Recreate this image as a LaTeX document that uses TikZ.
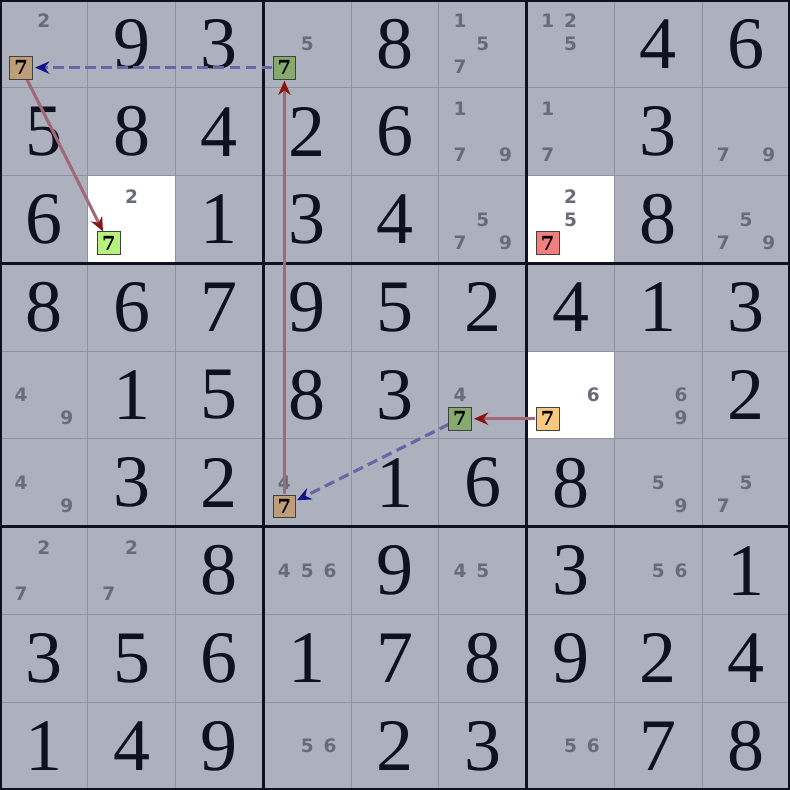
\documentclass[tikz,border=0pt]{standalone}
\usepackage{fontspec}
\usetikzlibrary{arrows.meta}
\newfontfamily\candfont{DejaVu Sans}
\newfontfamily\hlfont{DejaVu Serif}
\newfontfamily\givenfont{Liberation Serif}
\definecolor{bggray}{HTML}{ADB1BD}
\definecolor{thingrid}{HTML}{8E929E}
\definecolor{thickgrid}{HTML}{0E1220}
\definecolor{digitcol}{HTML}{0E1220}
\definecolor{candcol}{HTML}{686C76}
\definecolor{hltan}{HTML}{BE9E78}
\definecolor{hlgreen}{HTML}{86AA6E}
\definecolor{hllime}{HTML}{B8F27E}
\definecolor{hlred}{HTML}{F27E7E}
\definecolor{hlorange}{HTML}{F8C87E}
\definecolor{redline}{HTML}{A26878}
\definecolor{redtip}{HTML}{8A1414}
\definecolor{blueline}{HTML}{6468A8}
\definecolor{bluetip}{HTML}{12128A}
\tikzset{
  given/.style={font=\givenfont\fontsize{24}{24}\selectfont, text=digitcol, inner sep=0pt},
  cand/.style={font=\candfont\bfseries\fontsize{6}{6}\selectfont, text=candcol, inner sep=0pt},
  hlbox/.style={draw=black!75, line width=0.3pt, minimum size=0.26cm, inner sep=0pt,
    font=\hlfont\bfseries\fontsize{6.3}{6.3}\selectfont, text=black},
  strong/.style={draw=redline, line width=1pt, -{Stealth[length=4.6pt,width=4pt,color=redtip]}},
  weak/.style={draw=blueline, line width=1pt, dash pattern=on 3.4pt off 1.8pt, -{Stealth[length=4.6pt,width=4pt,color=bluetip]}}
}
\newcommand{\gv}[3]{\node[given] (g#1#2) at ({#2+0.5},{-(#1+0.5)}) {#3};}
\newcommand{\cds}[3]{%
  \foreach \dd in {#3}{%
    \pgfmathtruncatemacro\ck{mod(\dd-1,3)}%
    \pgfmathtruncatemacro\cj{div(\dd-1,3)}%
    \node[cand] (c#1#2\dd) at ({#2+0.24+0.26*\ck},{-(#1+0.24+0.26*\cj)}) {\dd};
  }}
\newcommand{\hl}[3]{\node[hlbox, fill=#3] (m#1#2) at ({#2+0.24},{-(#1+0.77)}) {7};}
\begin{document}
\begin{tikzpicture}
\useasboundingbox (0,0) rectangle (9,-9);
\fill[bggray] (0,0) rectangle (9,-9);
\fill[white] (1,-2) rectangle (2,-3);
\fill[white] (6,-2) rectangle (7,-3);
\fill[white] (6,-4) rectangle (7,-5);
\foreach \i in {1,2,4,5,7,8}{
  \draw[thingrid, line width=0.35pt] (\i,0) -- (\i,-9);
  \draw[thingrid, line width=0.35pt] (0,-\i) -- (9,-\i);
}
\foreach \i in {3,6}{
  \draw[thickgrid, line width=0.9pt] (\i,0) -- (\i,-9);
  \draw[thickgrid, line width=0.9pt] (0,-\i) -- (9,-\i);
}
\draw[thickgrid, line width=1.6pt] (0,0) rectangle (9,-9);
% row 0
\cds{0}{0}{2}\gv{0}{1}{9}\gv{0}{2}{3}\cds{0}{3}{5}\gv{0}{4}{8}\cds{0}{5}{1,5,7}\cds{0}{6}{1,2,5}\gv{0}{7}{4}\gv{0}{8}{6}
% row 1
\gv{1}{0}{5}\gv{1}{1}{8}\gv{1}{2}{4}\gv{1}{3}{2}\gv{1}{4}{6}\cds{1}{5}{1,7,9}\cds{1}{6}{1,7}\gv{1}{7}{3}\cds{1}{8}{7,9}
% row 2
\gv{2}{0}{6}\cds{2}{1}{2}\gv{2}{2}{1}\gv{2}{3}{3}\gv{2}{4}{4}\cds{2}{5}{5,7,9}\cds{2}{6}{2,5}\gv{2}{7}{8}\cds{2}{8}{5,7,9}
% row 3
\gv{3}{0}{8}\gv{3}{1}{6}\gv{3}{2}{7}\gv{3}{3}{9}\gv{3}{4}{5}\gv{3}{5}{2}\gv{3}{6}{4}\gv{3}{7}{1}\gv{3}{8}{3}
% row 4
\cds{4}{0}{4,9}\gv{4}{1}{1}\gv{4}{2}{5}\gv{4}{3}{8}\gv{4}{4}{3}\cds{4}{5}{4}\cds{4}{6}{6}\cds{4}{7}{6,9}\gv{4}{8}{2}
% row 5
\cds{5}{0}{4,9}\gv{5}{1}{3}\gv{5}{2}{2}\cds{5}{3}{4}\gv{5}{4}{1}\gv{5}{5}{6}\gv{5}{6}{8}\cds{5}{7}{5,9}\cds{5}{8}{5,7}
% row 6
\cds{6}{0}{2,7}\cds{6}{1}{2,7}\gv{6}{2}{8}\cds{6}{3}{4,5,6}\gv{6}{4}{9}\cds{6}{5}{4,5}\gv{6}{6}{3}\cds{6}{7}{5,6}\gv{6}{8}{1}
% row 7
\gv{7}{0}{3}\gv{7}{1}{5}\gv{7}{2}{6}\gv{7}{3}{1}\gv{7}{4}{7}\gv{7}{5}{8}\gv{7}{6}{9}\gv{7}{7}{2}\gv{7}{8}{4}
% row 8
\gv{8}{0}{1}\gv{8}{1}{4}\gv{8}{2}{9}\cds{8}{3}{5,6}\gv{8}{4}{2}\gv{8}{5}{3}\cds{8}{6}{5,6}\gv{8}{7}{7}\gv{8}{8}{8}
% connectors
\path (0.24,-0.77) coordinate (p00) (3.24,-0.77) coordinate (p03) (1.24,-2.77) coordinate (p21)
      (5.24,-4.77) coordinate (p45) (6.24,-4.77) coordinate (p46) (3.24,-5.77) coordinate (p53);
\draw[weak, shorten <=0.14cm, shorten >=0.16cm] (p03) -- (p00);
\draw[strong, shorten <=0.14cm, shorten >=0.15cm] (p00) -- (p21);
\draw[strong, shorten <=0.14cm, shorten >=0.15cm] (p53) -- (p03);
\draw[strong, shorten <=0.14cm, shorten >=0.16cm] (p46) -- (p45);
\draw[weak, shorten <=0.14cm, shorten >=0.16cm] (p45) -- (p53);
% highlighted candidates
\hl{0}{0}{hltan}\hl{0}{3}{hlgreen}\hl{2}{1}{hllime}\hl{2}{6}{hlred}
\hl{4}{5}{hlgreen}\hl{4}{6}{hlorange}\hl{5}{3}{hltan}
\end{tikzpicture}
\end{document}
